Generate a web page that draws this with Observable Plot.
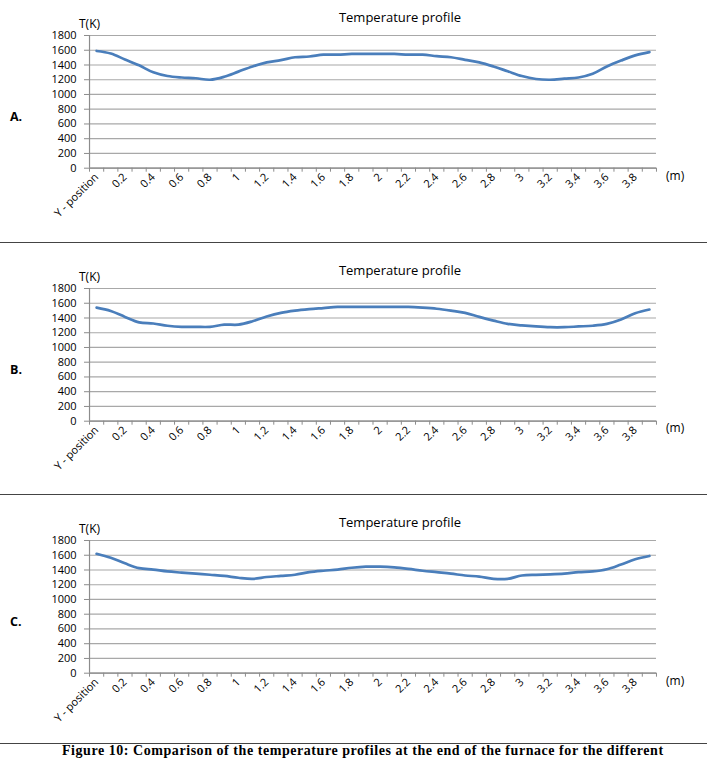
<!DOCTYPE html>
<html><head><meta charset="utf-8">
<script src="https://cdn.jsdelivr.net/npm/d3@7"></script>
<script src="https://cdn.jsdelivr.net/npm/@observablehq/plot@0.6"></script>
<style>
html,body{margin:0;padding:0;background:#fff;}
body{width:722px;height:758px;overflow:hidden;position:relative;font-family:"Open Sans",sans-serif;color:#000;}
.abs{position:absolute;white-space:nowrap;line-height:1;}
.title{font-size:13px;text-align:center;width:200px;}
.unit{font-size:12px;}
.plabel{font-size:12.5px;font-weight:bold;}
.sep{position:absolute;left:0;width:707px;height:1px;background:#444;}
.caption{font-family:"Liberation Serif",serif;font-weight:bold;font-size:14px;letter-spacing:0.55px;}
svg{position:absolute;left:0;}
</style></head><body>
<script>
const categories = ["Y - position","0.1","0.2","0.3","0.4","0.5","0.6","0.7","0.8","0.9","1","1.1","1.2","1.3","1.4","1.5","1.6","1.7","1.8","1.9","2","2.1","2.2","2.3","2.4","2.5","2.6","2.7","2.8","2.9","3","3.1","3.2","3.3","3.4","3.5","3.6","3.7","3.8","3.9"];
const tempA = [1590,1555,1475,1395,1300,1250,1230,1220,1200,1240,1310,1380,1435,1465,1505,1515,1540,1540,1550,1550,1550,1550,1540,1540,1520,1505,1470,1435,1380,1315,1250,1210,1200,1215,1230,1280,1380,1460,1530,1575];
const tempB = [1540,1495,1415,1340,1325,1295,1280,1280,1280,1310,1310,1355,1420,1470,1500,1520,1535,1550,1550,1550,1550,1550,1550,1540,1525,1500,1470,1415,1365,1320,1300,1285,1275,1275,1285,1295,1320,1380,1465,1515];
const tempC = [1620,1565,1490,1425,1405,1380,1365,1350,1335,1320,1295,1280,1305,1320,1335,1370,1390,1405,1430,1445,1445,1435,1415,1390,1370,1350,1325,1310,1280,1280,1325,1335,1340,1350,1370,1380,1410,1475,1545,1590];
const yTicks = [0,200,400,600,800,1000,1200,1400,1600,1800];
const panelLabels = ["A.","B.","C."];
const chartTitle = "Temperature profile";
const yLabel = "T(K)";
const xUnit = "(m)";
const captionText = "Figure 10: Comparison of the temperature profiles at the end of the furnace for the different";

const series = [tempA, tempB, tempC];
const gridTops = [35, 287.7, 540];   // y of the top gridline of each panel
const separators = [242, 493.5, 742.5];

const MT = 30, MB = 70, PH = 132.7;
const boundaries = d3.range(categories.length + 1).map(k => k - 0.5);
const labelIdx = d3.range(0, categories.length, 2);

function addDiv(cls, text, left, top) {
  const d = document.createElement("div");
  d.className = "abs " + cls;
  d.textContent = text;
  d.style.left = left + "px";
  d.style.top = top + "px";
  document.body.appendChild(d);
  return d;
}

series.forEach((vals, p) => {
  const g = gridTops[p];
  const rows = vals.map((t, i) => ({i, t}));
  const chart = Plot.plot({
    width: 722,
    height: MT + PH + MB,
    marginTop: MT,
    marginBottom: MB,
    marginLeft: 89,
    marginRight: 66,
    x: {domain: [-0.5, categories.length - 0.5], axis: null, label: null},
    y: {domain: [0, 1800], axis: null, label: null},
    style: {fontFamily: "Open Sans", fontSize: "11px", color: "#000", background: "transparent", overflow: "visible"},
    marks: [
      Plot.gridY(yTicks, {stroke: "#a8a8a8", strokeOpacity: 1, strokeWidth: 1.2}),
      Plot.ruleY([0], {stroke: "#8c8c8c", strokeWidth: 1.2}),
      Plot.ruleX([-0.5], {stroke: "#8c8c8c", strokeWidth: 1.2}),
      Plot.axisY(yTicks, {label: null, tickSize: 5, tickPadding: 8, stroke: "#8c8c8c", tickFormat: d => String(d)}),
      Plot.axisX(boundaries, {label: null, tickSize: 4, tickPadding: 0, stroke: "#8c8c8c", tickFormat: () => ""}),
      Plot.axisX(labelIdx, {label: null, tickSize: 0, tickPadding: 7, tickRotate: -45, tickFormat: i => categories[i]}),
      Plot.line(rows, {x: "i", y: "t", stroke: "#4a7ebb", strokeWidth: 2.7, curve: "catmull-rom"})
    ]
  });
  chart.style.top = (g - MT) + "px";
  document.body.appendChild(chart);

  addDiv("title", chartTitle, 300, g - 24);
  addDiv("unit", yLabel, 79, g - 17);
  addDiv("unit", xUnit, 666, g + PH + 2);
  addDiv("plabel", panelLabels[p], 10, g + 76);
});

separators.forEach(y => {
  const d = document.createElement("div");
  d.className = "sep";
  d.style.top = y + "px";
  document.body.appendChild(d);
});
addDiv("caption", captionText, 62, 744);
</script>
</body></html>
